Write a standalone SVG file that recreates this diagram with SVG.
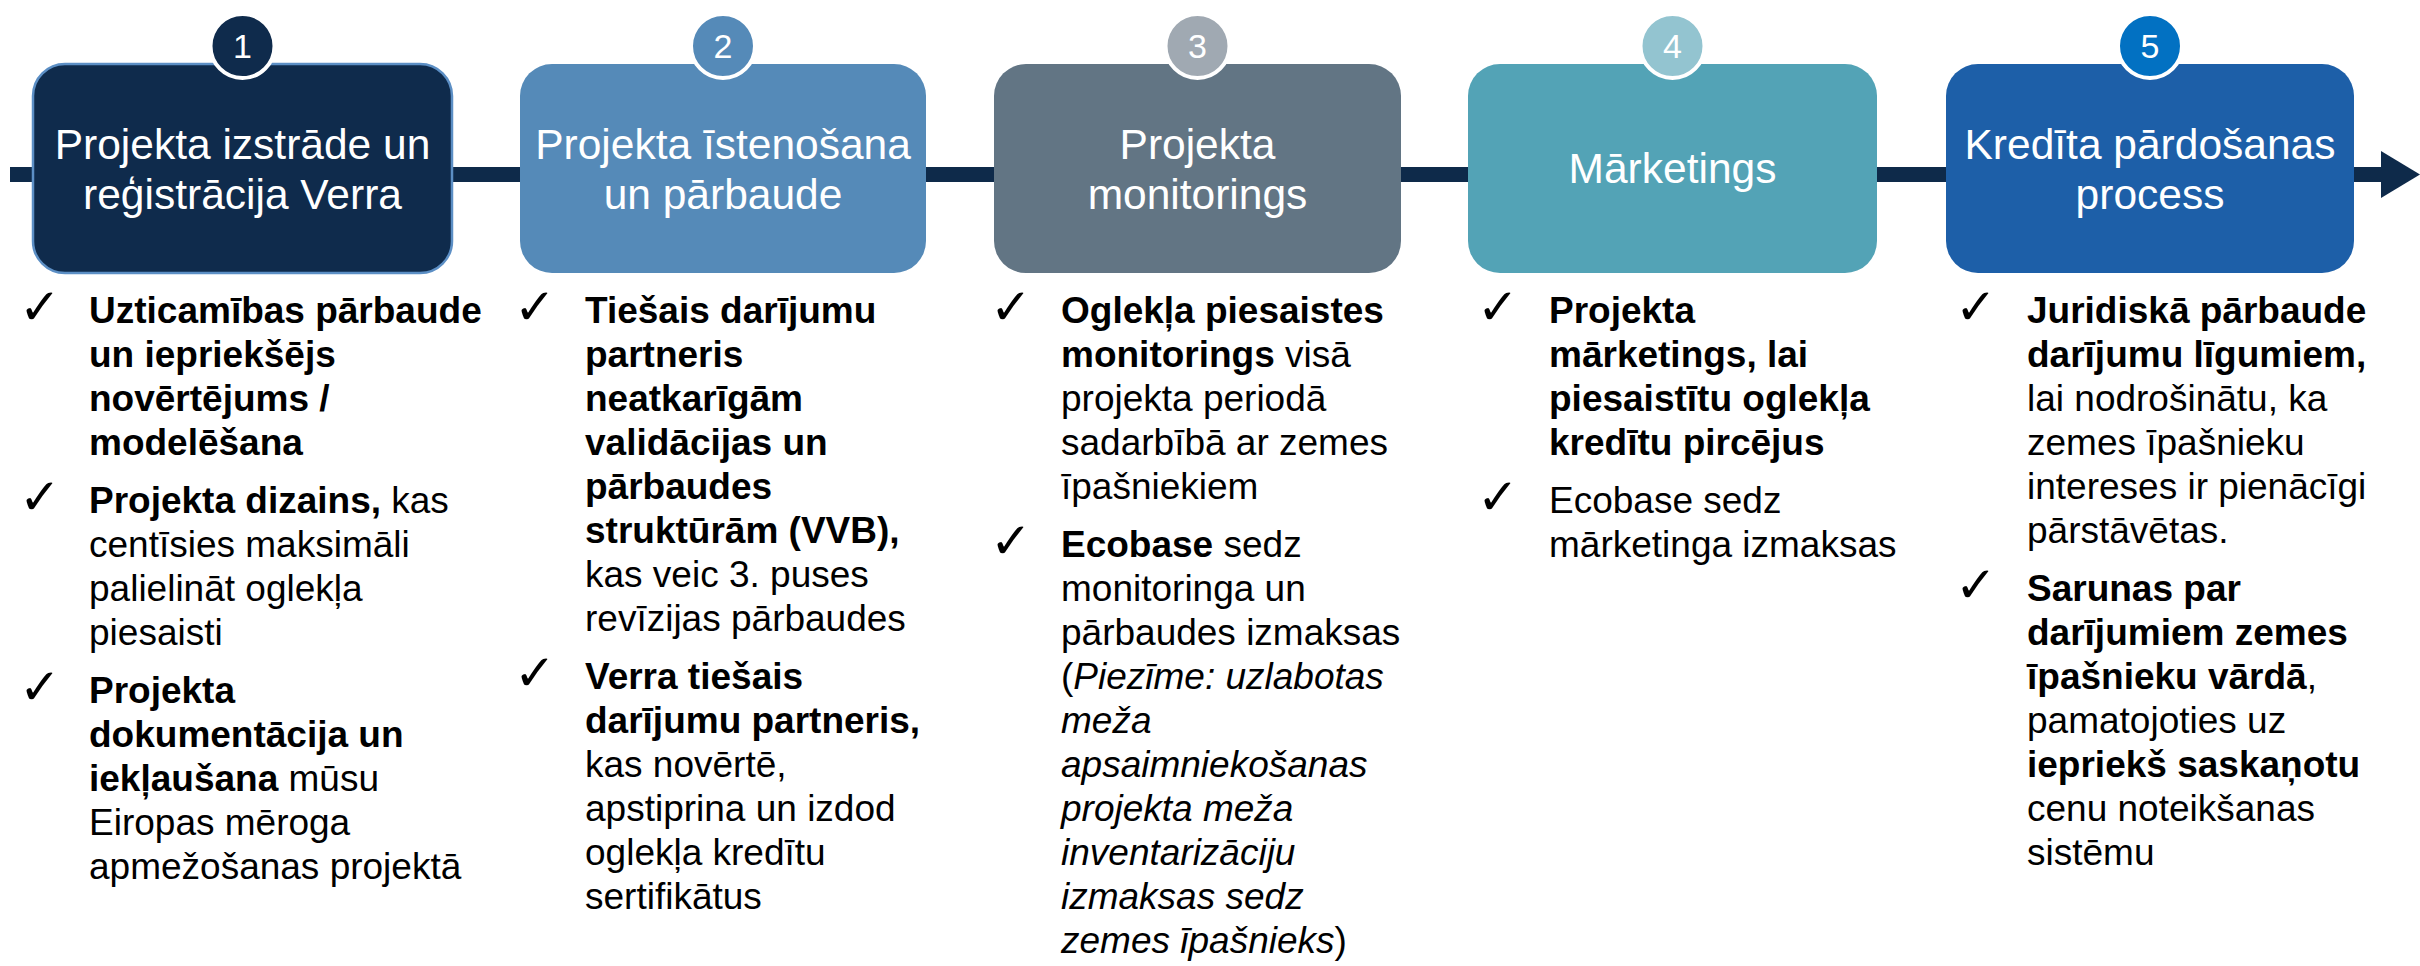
<svg xmlns="http://www.w3.org/2000/svg" width="2420" height="966" viewBox="0 0 2420 966">
<defs>
<style>
.hd{font-family:"Liberation Sans",Arial,sans-serif;font-size:42.5px;fill:#ffffff;text-anchor:middle}
.num{font-family:"Liberation Sans",Arial,sans-serif;font-size:34px;fill:#ffffff;text-anchor:middle}
.tx{font-family:"Liberation Sans",Arial,sans-serif;font-size:37px;fill:#000000}
.b{font-weight:bold}
.i{font-style:italic}
.ck{font-family:"DejaVu Sans",sans-serif;font-size:50px;fill:#000000}
.circ{stroke:#ffffff;stroke-width:4}
</style>
</defs>
<rect width="2420" height="966" fill="#ffffff"/>
<g id="connectors">
<rect x="10" y="167" width="2375" height="15" fill="#0e2a4a"/>
<polygon points="2381,151 2420,174.5 2381,198" fill="#0e2a4a"/>
</g>
<g id="step1">
<rect x="33" y="64" width="419" height="209" rx="32" fill="#0f2b4c" stroke="#5c8fc5" stroke-width="2.5"/>
<circle class="circ" cx="242.5" cy="46" r="32" fill="#0f2b4c"/>
<text class="num" x="242.5" y="58">1</text>
<text class="hd" x="242.5" y="159">Projekta izstrāde un</text>
<text class="hd" x="242.5" y="209">reģistrācija Verra</text>
</g>
<g id="step2">
<rect x="520" y="64" width="406" height="209" rx="32" fill="#558ab8"/>
<circle class="circ" cx="723" cy="46" r="32" fill="#558ab8"/>
<text class="num" x="723" y="58">2</text>
<text class="hd" x="723" y="159">Projekta īstenošana</text>
<text class="hd" x="723" y="209">un pārbaude</text>
</g>
<g id="step3">
<rect x="994" y="64" width="407" height="209" rx="32" fill="#627584"/>
<circle class="circ" cx="1197.5" cy="46" r="32" fill="#a0a9b2"/>
<text class="num" x="1197.5" y="58">3</text>
<text class="hd" x="1197.5" y="159">Projekta</text>
<text class="hd" x="1197.5" y="209">monitorings</text>
</g>
<g id="step4">
<rect x="1468" y="64" width="409" height="209" rx="32" fill="#53a3b6"/>
<circle class="circ" cx="1672.5" cy="46" r="32" fill="#93c4d0"/>
<text class="num" x="1672.5" y="58">4</text>
<text class="hd" x="1672.5" y="183">Mārketings</text>
</g>
<g id="step5">
<rect x="1946" y="64" width="408" height="209" rx="32" fill="#1d5fa8"/>
<circle class="circ" cx="2150" cy="46" r="32" fill="#0271c2"/>
<text class="num" x="2150" y="58">5</text>
<text class="hd" x="2150" y="159">Kredīta pārdošanas</text>
<text class="hd" x="2150" y="209">process</text>
</g>
<g id="list1">
<text class="ck" x="19" y="324">✓</text>
<text class="ck" x="19" y="514">✓</text>
<text class="ck" x="19" y="704">✓</text>
<text class="tx">
<tspan class="b" x="89" y="323">Uzticamības pārbaude</tspan>
<tspan class="b" x="89" y="367">un iepriekšējs</tspan>
<tspan class="b" x="89" y="411">novērtējums /</tspan>
<tspan class="b" x="89" y="455">modelēšana</tspan>
<tspan x="89" y="513"><tspan class="b">Projekta dizains,</tspan> kas</tspan>
<tspan x="89" y="557">centīsies maksimāli</tspan>
<tspan x="89" y="601">palielināt oglekļa</tspan>
<tspan x="89" y="645">piesaisti</tspan>
<tspan class="b" x="89" y="703">Projekta</tspan>
<tspan class="b" x="89" y="747">dokumentācija un</tspan>
<tspan x="89" y="791"><tspan class="b">iekļaušana</tspan> mūsu</tspan>
<tspan x="89" y="835">Eiropas mēroga</tspan>
<tspan x="89" y="879">apmežošanas projektā</tspan>
</text>
</g>
<g id="list2">
<text class="ck" x="514" y="324">✓</text>
<text class="ck" x="514" y="690">✓</text>
<text class="tx">
<tspan class="b" x="585" y="323">Tiešais darījumu</tspan>
<tspan class="b" x="585" y="367">partneris</tspan>
<tspan class="b" x="585" y="411">neatkarīgām</tspan>
<tspan class="b" x="585" y="455">validācijas un</tspan>
<tspan class="b" x="585" y="499">pārbaudes</tspan>
<tspan class="b" x="585" y="543">struktūrām (VVB),</tspan>
<tspan x="585" y="587">kas veic 3. puses</tspan>
<tspan x="585" y="631">revīzijas pārbaudes</tspan>
<tspan class="b" x="585" y="689">Verra tiešais</tspan>
<tspan class="b" x="585" y="733">darījumu partneris,</tspan>
<tspan x="585" y="777">kas novērtē,</tspan>
<tspan x="585" y="821">apstiprina un izdod</tspan>
<tspan x="585" y="865">oglekļa kredītu</tspan>
<tspan x="585" y="909">sertifikātus</tspan>
</text>
</g>
<g id="list3">
<text class="ck" x="990" y="324">✓</text>
<text class="ck" x="990" y="558">✓</text>
<text class="tx">
<tspan class="b" x="1061" y="323">Oglekļa piesaistes</tspan>
<tspan x="1061" y="367"><tspan class="b">monitorings</tspan> visā</tspan>
<tspan x="1061" y="411">projekta periodā</tspan>
<tspan x="1061" y="455">sadarbībā ar zemes</tspan>
<tspan x="1061" y="499">īpašniekiem</tspan>
<tspan x="1061" y="557"><tspan class="b">Ecobase</tspan> sedz</tspan>
<tspan x="1061" y="601">monitoringa un</tspan>
<tspan x="1061" y="645">pārbaudes izmaksas</tspan>
<tspan x="1061" y="689">(<tspan class="i">Piezīme: uzlabotas</tspan></tspan>
<tspan class="i" x="1061" y="733">meža</tspan>
<tspan class="i" x="1061" y="777">apsaimniekošanas</tspan>
<tspan class="i" x="1061" y="821">projekta meža</tspan>
<tspan class="i" x="1061" y="865">inventarizāciju</tspan>
<tspan class="i" x="1061" y="909">izmaksas sedz</tspan>
<tspan x="1061" y="953"><tspan class="i">zemes īpašnieks</tspan>)</tspan>
</text>
</g>
<g id="list4">
<text class="ck" x="1477" y="324">✓</text>
<text class="ck" x="1477" y="514">✓</text>
<text class="tx">
<tspan class="b" x="1549" y="323">Projekta</tspan>
<tspan class="b" x="1549" y="367">mārketings, lai</tspan>
<tspan class="b" x="1549" y="411">piesaistītu oglekļa</tspan>
<tspan class="b" x="1549" y="455">kredītu pircējus</tspan>
<tspan x="1549" y="513">Ecobase sedz</tspan>
<tspan x="1549" y="557">mārketinga izmaksas</tspan>
</text>
</g>
<g id="list5">
<text class="ck" x="1955" y="324">✓</text>
<text class="ck" x="1955" y="602">✓</text>
<text class="tx">
<tspan class="b" x="2027" y="323">Juridiskā pārbaude</tspan>
<tspan class="b" x="2027" y="367">darījumu līgumiem,</tspan>
<tspan x="2027" y="411">lai nodrošinātu, ka</tspan>
<tspan x="2027" y="455">zemes īpašnieku</tspan>
<tspan x="2027" y="499">intereses ir pienācīgi</tspan>
<tspan x="2027" y="543">pārstāvētas.</tspan>
<tspan class="b" x="2027" y="601">Sarunas par</tspan>
<tspan class="b" x="2027" y="645">darījumiem zemes</tspan>
<tspan x="2027" y="689"><tspan class="b">īpašnieku vārdā</tspan>,</tspan>
<tspan x="2027" y="733">pamatojoties uz</tspan>
<tspan class="b" x="2027" y="777">iepriekš saskaņotu</tspan>
<tspan x="2027" y="821">cenu noteikšanas</tspan>
<tspan x="2027" y="865">sistēmu</tspan>
</text>
</g>
</svg>
